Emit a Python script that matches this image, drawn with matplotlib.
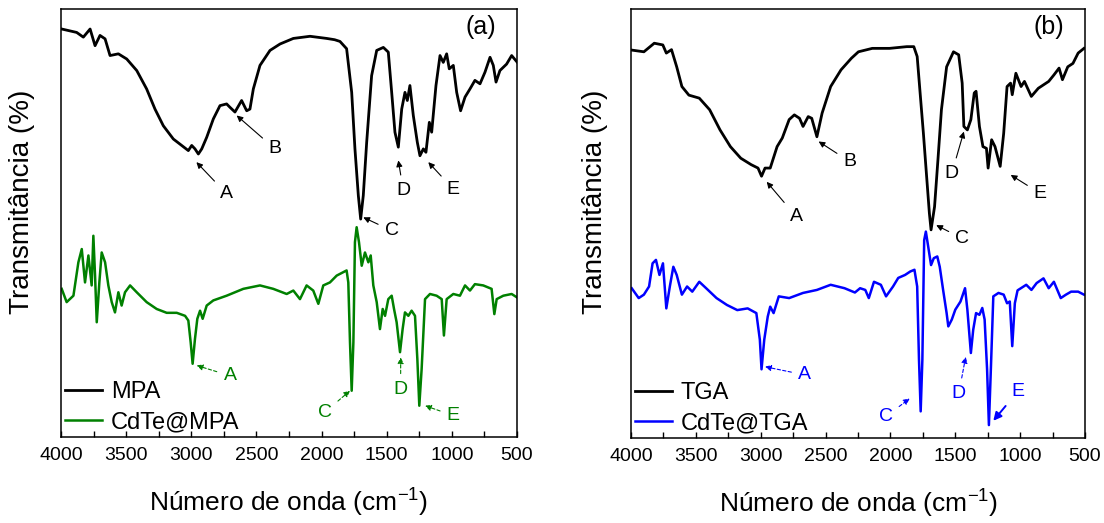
import numpy as np
import matplotlib
matplotlib.use('Agg')
import matplotlib.pyplot as plt
from matplotlib.ticker import MultipleLocator

plt.rcParams['font.family'] = ['Liberation Sans', 'DejaVu Sans']
plt.rcParams['mathtext.fontset'] = 'custom'
plt.rcParams['mathtext.rm'] = 'Liberation Sans'

# ---- panel (a): MPA / CdTe@MPA (wavenumber cm-1, transmittance a.u.) ----
mpa_wn = [3995, 3880, 3829, 3777, 3739, 3701, 3662, 3624, 3560, 3496, 3419, 3343, 3279,
          3215, 3138, 3074, 3023, 2997, 2972, 2946, 2920, 2882, 2831, 2780, 2729, 2703,
          2665, 2614, 2575, 2550, 2524, 2473, 2396, 2319, 2217, 2089, 1961, 1900, 1859,
          1808, 1769, 1744, 1718, 1700, 1680, 1654, 1616, 1577, 1526, 1488, 1462, 1437,
          1411, 1385, 1360, 1342, 1322, 1296, 1265, 1245, 1219, 1199, 1173, 1155, 1122,
          1091, 1066, 1040, 1020, 989, 963, 933, 899, 861, 823, 784, 746, 707, 682, 661,
          631, 580, 541, 500]
mpa_t = [95.3, 94.5, 93.4, 95.3, 91.4, 93.8, 93.0, 89.1, 89.5, 88.3, 85.6, 81.3, 76.6,
         72.7, 69.6, 68.1, 66.9, 68.1, 67.3, 66.1, 67.3, 70.0, 74.3, 77.4, 77.8, 77.0,
         75.9, 78.6, 76.2, 76.6, 81.3, 86.8, 90.3, 91.8, 93.1, 93.6, 93.1, 92.8, 92.4,
         90.7, 80.5, 67.3, 56.4, 50.9, 56.4, 68.8, 84.4, 90.3, 91.0, 89.9, 80.5, 71.2,
         67.7, 76.6, 80.5, 78.6, 82.1, 75.1, 68.8, 65.7, 67.3, 66.5, 73.5, 71.2, 82.1,
         89.1, 87.5, 89.5, 86.0, 86.8, 80.5, 76.2, 79.4, 81.3, 83.3, 82.5, 85.2, 88.7,
         86.8, 82.9, 85.6, 87.1, 89.1, 87.6]

cdmpa_wn = [3995, 3957, 3905, 3867, 3841, 3816, 3790, 3765, 3752, 3739, 3726, 3706, 3688,
            3662, 3637, 3611, 3586, 3560, 3535, 3509, 3470, 3419, 3343, 3266, 3189, 3112,
            3048, 3023, 3005, 2990, 2972, 2954, 2933, 2913, 2882, 2831, 2729, 2601, 2473,
            2371, 2268, 2217, 2166, 2115, 2064, 2025, 1987, 1936, 1884, 1808, 1795, 1782,
            1769, 1756, 1744, 1731, 1713, 1692, 1667, 1641, 1623, 1603, 1577, 1552, 1531,
            1513, 1488, 1462, 1444, 1424, 1398, 1378, 1360, 1334, 1309, 1283, 1265, 1250,
            1232, 1206, 1168, 1117, 1078, 1061, 1040, 989, 938, 899, 861, 823, 759, 695,
            674, 656, 605, 541, 500]
cdmpa_t = [34.6, 31.5, 33.0, 40.8, 43.9, 36.1, 42.4, 35.4, 47.0, 37.7, 26.8, 36.1, 43.1,
           40.8, 35.4, 31.5, 29.1, 33.8, 30.7, 33.8, 35.4, 33.8, 31.5, 29.9, 29.0, 29.0,
           28.3, 27.2, 22.1, 17.1, 22.9, 27.6, 29.5, 27.6, 30.7, 31.9, 33.0, 34.6, 35.4,
           34.6, 33.4, 34.2, 32.2, 35.4, 34.2, 31.1, 35.4, 36.1, 37.7, 38.9, 36.1, 22.1,
           10.8, 22.1, 45.5, 49.0, 45.5, 40.0, 43.1, 40.8, 42.4, 35.4, 31.5, 25.2, 29.9,
           28.3, 32.2, 33.0, 29.9, 26.8, 19.8, 25.2, 29.1, 28.3, 29.5, 28.3, 18.2, 7.3,
           15.9, 32.2, 33.4, 33.0, 32.2, 23.7, 32.2, 33.4, 33.0, 35.4, 34.2, 35.7, 35.4,
           34.6, 28.7, 32.2, 33.0, 33.4, 32.6]

# ---- panel (b): TGA / CdTe@TGA ----
tga_wn = [3995, 3901, 3821, 3755, 3728, 3688, 3648, 3608, 3554, 3474, 3394, 3314, 3234,
          3154, 3074, 3021, 2994, 2967, 2927, 2874, 2834, 2781, 2741, 2701, 2674, 2634,
          2607, 2567, 2527, 2461, 2381, 2301, 2247, 2140, 2007, 1874, 1820, 1794, 1767,
          1746, 1727, 1700, 1687, 1660, 1634, 1607, 1567, 1514, 1474, 1447, 1434, 1407,
          1380, 1354, 1340, 1314, 1287, 1260, 1247, 1220, 1194, 1154, 1127, 1101, 1074,
          1061, 1033, 993, 967, 914, 860, 780, 740, 700, 674, 633, 593, 553, 508]
tga_t = [90.4, 90.0, 92.0, 91.6, 89.7, 90.5, 86.5, 81.9, 79.9, 79.2, 76.5, 71.8, 67.9,
         65.2, 63.7, 62.9, 61.0, 62.9, 62.9, 67.9, 69.9, 74.2, 75.3, 74.5, 72.6, 74.9,
         74.5, 70.2, 75.7, 81.9, 85.8, 88.5, 90.0, 90.8, 90.8, 91.2, 91.2, 88.9, 78.8,
         71.0, 63.3, 52.4, 48.5, 53.9, 64.8, 76.5, 86.5, 90.0, 89.3, 82.7, 72.6, 71.8,
         74.2, 80.4, 80.8, 72.6, 67.9, 67.5, 62.9, 69.5, 67.9, 63.3, 71.0, 81.9, 82.7,
         80.0, 85.0, 81.9, 83.1, 79.6, 81.5, 83.1, 84.6, 86.2, 83.5, 86.5, 87.3, 89.7, 90.8]

cdtga_wn = [3995, 3941, 3901, 3861, 3834, 3808, 3781, 3754, 3728, 3701, 3674, 3648, 3608,
            3568, 3528, 3474, 3421, 3341, 3261, 3181, 3101, 3034, 3007, 2994, 2973, 2946,
            2927, 2901, 2861, 2781, 2674, 2567, 2461, 2354, 2274, 2234, 2194, 2167, 2127,
            2074, 2034, 1980, 1940, 1887, 1847, 1815, 1794, 1780, 1767, 1754, 1740, 1727,
            1709, 1687, 1666, 1639, 1620, 1594, 1567, 1554, 1527, 1500, 1460, 1425, 1407,
            1380, 1362, 1340, 1314, 1292, 1274, 1255, 1241, 1225, 1207, 1167, 1127, 1101,
            1080, 1061, 1041, 1020, 953, 913, 873, 820, 780, 740, 687, 647, 607, 553, 508]
cdtga_t = [34.9, 32.6, 33.4, 35.3, 40.7, 41.5, 38.0, 40.7, 30.2, 35.3, 39.9, 38.0, 33.4,
           35.3, 34.1, 36.4, 34.9, 32.6, 31.0, 29.8, 30.2, 29.1, 22.9, 16.0, 22.9, 28.3,
           30.6, 29.1, 33.0, 32.6, 33.8, 34.5, 35.7, 34.9, 33.9, 34.9, 34.5, 32.6, 36.4,
           35.7, 33.0, 35.3, 37.3, 38.0, 38.8, 39.2, 35.3, 18.2, 6.2, 18.2, 46.1, 48.1,
           44.6, 40.3, 41.9, 42.3, 39.9, 34.5, 29.1, 26.0, 27.6, 29.9, 31.8, 34.9, 29.9,
           19.8, 25.2, 29.1, 28.7, 30.3, 27.6, 16.0, 3.0, 16.8, 33.0, 33.8, 33.4, 31.4,
           31.8, 21.4, 31.4, 34.4, 35.7, 34.5, 36.1, 37.2, 34.9, 36.4, 32.6, 33.4, 34.1,
           34.1, 33.4]

# peak labels: (text, tip wn, tip T, label wn, label T)
mpa_marks = [('A', 2961, 64.2, 2729, 56.8), ('B', 2652, 75.1, 2358, 67.3),
             ('C', 1680, 51.3, 1462, 48.2), ('D', 1411, 64.6, 1373, 57.6),
             ('E', 1181, 64.2, 989, 57.9)]
cdmpa_marks = [('A', 2959, 16.7, 2703, 14.3), ('C', 1782, 10.8, 1974, 5.8),
               ('D', 1393, 18.6, 1393, 11.2), ('E', 1206, 7.3, 989, 5.0)]
tga_marks = [('A', 2954, 59.7, 2727, 51.6), ('B', 2554, 69.1, 2314, 64.4),
             ('C', 1647, 49.6, 1447, 46.5), ('D', 1434, 71.4, 1527, 61.7),
             ('E', 1073, 61.3, 846, 57.0)]
cdtga_marks = [('A', 2967, 16.6, 2661, 14.7), ('C', 1852, 9.2, 2034, 5.0),
               ('D', 1420, 18.9, 1473, 10.4), ('E', 1207, 4.0, 1020, 10.8)]

panels = [
    ('(a)', 'MPA', 'CdTe@MPA', mpa_wn, mpa_t, cdmpa_wn, cdmpa_t, 'green',
     mpa_marks, cdmpa_marks, [0.0553, 0.1645, 0.4130, 0.8185], -0.057),
    ('(b)', 'TGA', 'CdTe@TGA', tga_wn, tga_t, cdtga_wn, cdtga_t, 'blue',
     tga_marks, cdtga_marks, [0.5716, 0.1626, 0.4112, 0.8204], -0.050),
]

fig = plt.figure(figsize=(11.04, 5.23), dpi=100)

for tag, n1, n2, x1, y1, x2, y2, col, m1, m2, rect, ylx in panels:
    ax = fig.add_axes(rect)
    ax.plot(x1, y1, color='black', lw=2.0, label=n1)
    ax.plot(x2, y2, color=col, lw=1.8, label=n2)

    for t, xt, yt, xl, yl in m1:
        ax.annotate(t, xy=(xt, yt), xytext=(xl, yl), ha='center', va='center',
                    fontsize=14, color='black',
                    arrowprops=dict(arrowstyle='-|>', color='black', lw=0.8,
                                    mutation_scale=9, shrinkA=3, shrinkB=0))
    for t, xt, yt, xl, yl in m2:
        bold = (tag == '(b)' and t == 'E')
        ax.annotate(t, xy=(xt, yt), xytext=(xl, yl), ha='center', va='center',
                    fontsize=14, color=col,
                    arrowprops=dict(arrowstyle='-|>', color=col,
                                    lw=1.4 if bold else 0.8,
                                    linestyle='-' if bold else (0, (3, 2)),
                                    mutation_scale=12 if bold else 9,
                                    shrinkA=3, shrinkB=0))

    ax.text(0.955, 0.985, tag, transform=ax.transAxes, ha='right', va='top', fontsize=18)

    ax.set_xlim(4000, 500)
    ax.set_ylim(0, 100)
    ax.set_yticks([])
    ax.xaxis.set_major_locator(MultipleLocator(500))
    ax.xaxis.set_minor_locator(MultipleLocator(250))
    ax.tick_params(axis='x', which='both', direction='in', length=4, width=1,
                   top=False, labelsize=14, pad=7)
    for s in ax.spines.values():
        s.set_linewidth(1.1)

    ax.set_xlabel('Número de onda (cm$^{\\mathregular{-1}}$)', fontsize=19)
    ax.xaxis.set_label_coords(0.5, -0.112)
    ax.set_ylabel('Transmitância (%)', fontsize=20)
    ax.yaxis.set_label_coords(ylx, 0.55)

    ax.legend(loc='lower left', frameon=False, fontsize=17, handlelength=1.6,
              handletextpad=0.35, labelspacing=0.35, borderaxespad=0.0,
              borderpad=0.15, bbox_to_anchor=(0.0, 0.0))

fig.savefig('out.png', dpi=100, facecolor='white')
